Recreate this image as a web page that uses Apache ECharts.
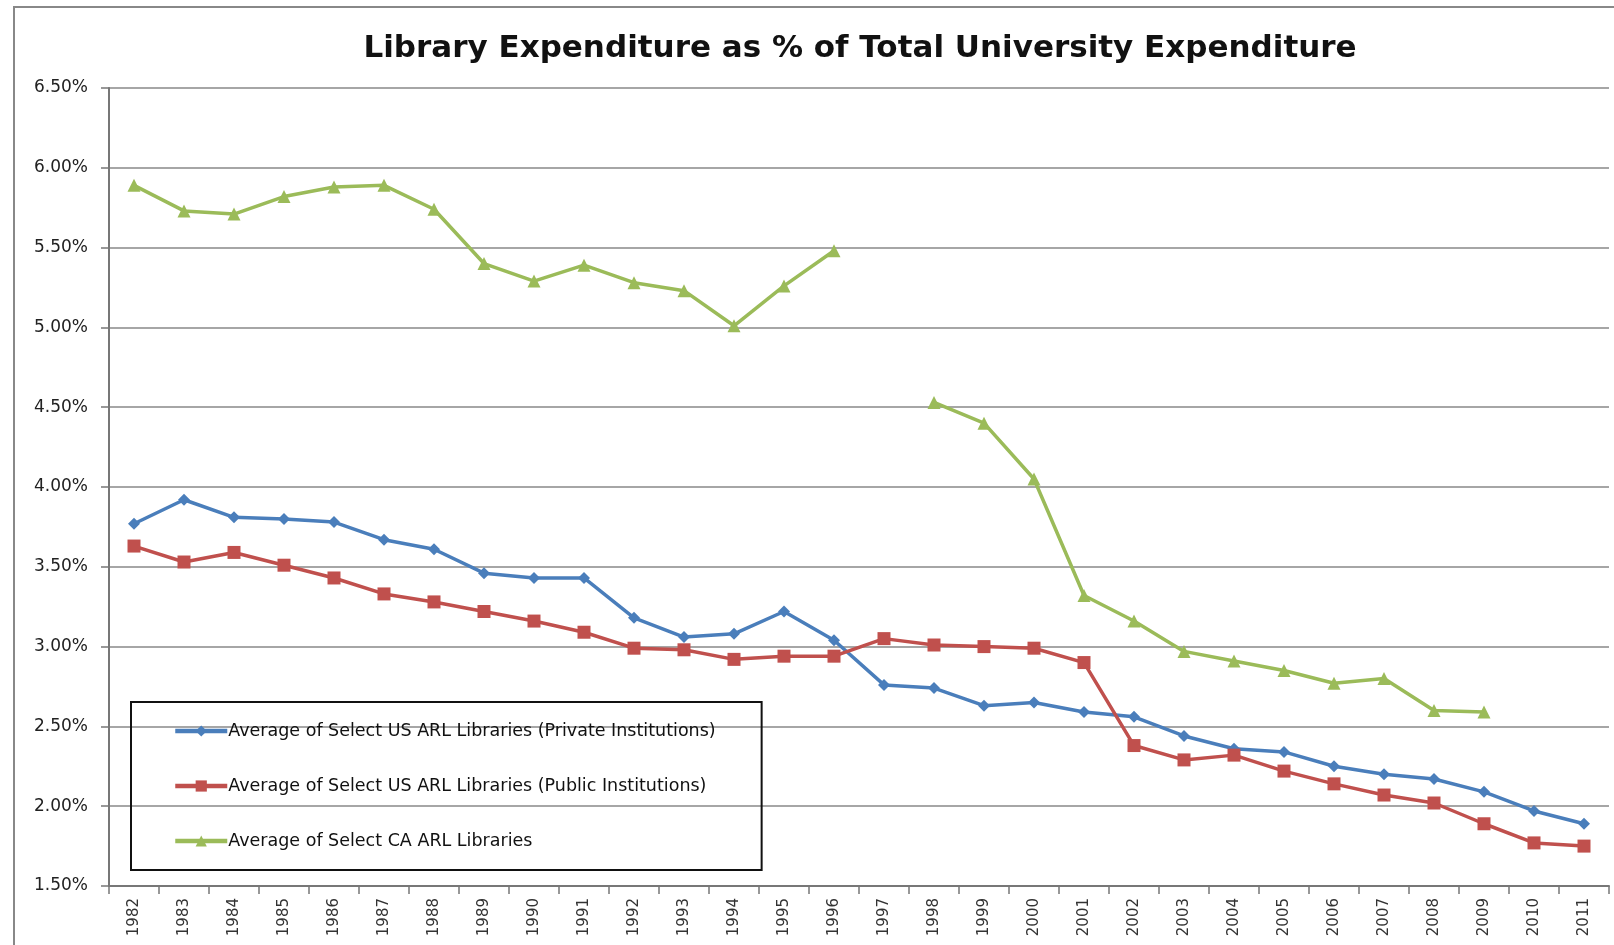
<!DOCTYPE html>
<html>
<head>
<meta charset="utf-8">
<script src="https://cdn.jsdelivr.net/npm/echarts@6/dist/echarts.min.js"></script>
<style>
	html, body { margin: 0; padding: 0; background: #fff; }
	#chart { width: 1614px; height: 945px; }
</style>
</head>
<body>
<div id="chart"></div>
<script>
// 年份
const years = ['1982', '1983', '1984', '1985', '1986', '1987', '1988', '1989', '1990', '1991',
	'1992', '1993', '1994', '1995', '1996', '1997', '1998', '1999', '2000', '2001',
	'2002', '2003', '2004', '2005', '2006', '2007', '2008', '2009', '2010', '2011']

const seriesNames = [
	'Average of Select US ARL Libraries (Private Institutions)',
	'Average of Select US ARL Libraries (Public Institutions)',
	'Average of Select CA ARL Libraries',
]

// 数据 (%)
const privateUS = [3.77, 3.92, 3.81, 3.80, 3.78, 3.67, 3.61, 3.46, 3.43, 3.43,
	3.18, 3.06, 3.08, 3.22, 3.04, 2.76, 2.74, 2.63, 2.65, 2.59,
	2.56, 2.44, 2.36, 2.34, 2.25, 2.20, 2.17, 2.09, 1.97, 1.89]
const publicUS = [3.63, 3.53, 3.59, 3.51, 3.43, 3.33, 3.28, 3.22, 3.16, 3.09,
	2.99, 2.98, 2.92, 2.94, 2.94, 3.05, 3.01, 3.00, 2.99, 2.90,
	2.38, 2.29, 2.32, 2.22, 2.14, 2.07, 2.02, 1.89, 1.77, 1.75]
const canada = [5.89, 5.73, 5.71, 5.82, 5.88, 5.89, 5.74, 5.40, 5.29, 5.39,
	5.28, 5.23, 5.01, 5.26, 5.48, null, 4.53, 4.40, 4.05, 3.32,
	3.16, 2.97, 2.91, 2.85, 2.77, 2.80, 2.60, 2.59, null, null]

const colors = ['#4a7ebb', '#c0504d', '#9bbb59']
const symbols = ['diamond', 'rect', 'triangle']
const symbolSizes = [12, 13, 13]
const values = [privateUS, publicUS, canada]

const labelFont = 'DejaVu Sans, Verdana, sans-serif'

let myChart = echarts.init(document.getElementById('chart'))
myChart.setOption({
	animation: false,
	title: {
		text: 'Library Expenditure as % of Total University Expenditure',
		top: 28,
		left: 855,
		textAlign: 'center',
		textStyle: {
			fontFamily: labelFont,
			fontWeight: 'bold',
			fontSize: 31,
			color: '#111',
		},
	},
	graphic: [
		{
			// 外框
			type: 'rect',
			shape: { x: 14, y: 7, width: 1620, height: 960 },
			style: { fill: 'none', stroke: '#888', lineWidth: 2 },
			silent: true,
		},
	],
	legend: {
		orient: 'vertical',
		left: 131,
		top: 702,
		padding: [20, 46, 20, 42],
		itemGap: 37,
		itemWidth: 52,
		itemHeight: 14,
		borderColor: '#111',
		borderWidth: 2,
		data: seriesNames,
		lineStyle: { width: 4.5 },
		textStyle: {
			fontFamily: labelFont,
			fontSize: 17.5,
			color: '#111',
			padding: [0, 0, 0, -4],
		},
	},
	grid: {
		left: 109,
		right: 5,
		top: 88,
		bottom: 59,
		containLabel: false,
	},
	xAxis: {
		type: 'category',
		data: years,
		boundaryGap: true,
		axisLine: { lineStyle: { color: '#777', width: 2 } },
		axisTick: { show: true, length: 8, lineStyle: { color: '#777', width: 1.5 } },
		axisLabel: {
			rotate: 90,
			margin: 12,
			fontFamily: labelFont,
			fontSize: 15,
			color: '#333',
		},
	},
	yAxis: {
		type: 'value',
		min: 1.5,
		max: 6.5,
		interval: 0.5,
		axisLine: { show: true, lineStyle: { color: '#777', width: 2 } },
		axisTick: { show: true, length: 8, lineStyle: { color: '#777', width: 1.5 } },
		axisLabel: {
			margin: 21,
			fontFamily: labelFont,
			fontSize: 17,
			color: '#222',
			formatter: function (v) {
				return v.toFixed(2) + '%'
			},
		},
		splitLine: { lineStyle: { color: '#888', width: 1.5 } },
	},
	series: seriesNames.map(function (name, i) {
		return {
			name: name,
			type: 'line',
			data: values[i],
			connectNulls: false,
			symbol: symbols[i],
			symbolSize: symbolSizes[i],
			color: colors[i],
			lineStyle: { width: 3.5, color: colors[i] },
			itemStyle: { color: colors[i] },
		}
	}),
})
</script>
</body>
</html>
